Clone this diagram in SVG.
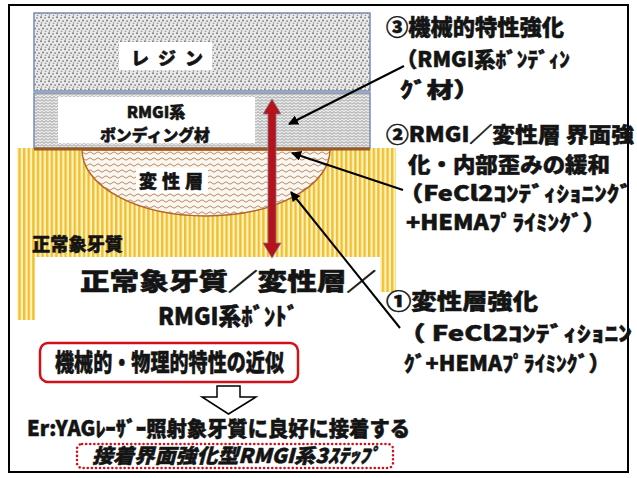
<svg xmlns="http://www.w3.org/2000/svg" width="637" height="478" viewBox="0 0 637 478">
  <defs>
    <style>
      text { font-family: "Noto Sans CJK JP", "Noto Sans", sans-serif; font-weight: 900; fill: #141414; stroke: #141414; stroke-width: 0.5; stroke-linejoin: round; }
      .lead { stroke: #000; stroke-width: 2; fill: none; }
      .layer { stroke: #7a8db0; stroke-width: 1.5; }
    </style>
    <!-- resin: fine grey speckle -->
    <pattern id="pResin" width="8" height="8" patternUnits="userSpaceOnUse">
      <rect width="8" height="8" fill="#e9e9e9"/>
      <circle cx="1" cy="1.2" r="1" fill="#7c7c7c"/>
      <circle cx="5" cy="1.8" r="0.9" fill="#8a8a8a"/>
      <circle cx="3" cy="4.5" r="1" fill="#7c7c7c"/>
      <circle cx="7" cy="5.2" r="0.9" fill="#8a8a8a"/>
      <circle cx="1.5" cy="7" r="0.8" fill="#909090"/>
      <circle cx="5.5" cy="7.5" r="0.8" fill="#909090"/>
    </pattern>
    <!-- bonding agent: grey zigzag weave -->
    <pattern id="pBond" width="8" height="6" patternUnits="userSpaceOnUse">
      <rect width="8" height="6" fill="#ececec"/>
      <path d="M0,2.5 l2,-2 l2,2 l2,-2 l2,2 M0,5.5 l2,-2 l2,2 l2,-2 l2,2" stroke="#888" stroke-width="0.9" fill="none"/>
    </pattern>
    <!-- altered layer: brown wavy lines -->
    <pattern id="pAltered" width="8" height="6" patternUnits="userSpaceOnUse">
      <rect width="8" height="6" fill="#fbf6ee"/>
      <path d="M0,3 q2,-2.4 4,0 t4,0" stroke="#a0704c" stroke-width="0.8" fill="none"/>
    </pattern>
    <!-- sound dentin: vertical gold stripes -->
    <pattern id="pDentin" width="4.6" height="10" patternUnits="userSpaceOnUse">
      <rect width="4.6" height="10" fill="#fff3c2"/>
      <rect width="2.4" height="10" fill="#f0c031"/>
    </pattern>
    <marker id="arrowBlack" viewBox="0 0 10 10" refX="9" refY="5" markerWidth="5" markerHeight="5" orient="auto">
      <path d="M0,0 L10,5 L0,10 Z" fill="#000"/>
    </marker>
  </defs>

  <rect width="637" height="478" fill="#fff"/>
  <!-- outer frame -->
  <rect x="9" y="5" width="619" height="467" fill="none" stroke="#000" stroke-width="2"/>

  <!-- sound dentin (U-shaped striped region) -->
  <g id="dentin">
    <path d="M17,148 H396 V294 H380 V257 H35 V320 H17 Z" fill="url(#pDentin)"/>
    <text x="32" y="251" font-size="18" textLength="91" lengthAdjust="spacingAndGlyphs">正常象牙質</text>
  </g>

  <!-- resin layer -->
  <g id="resin">
    <rect class="layer" x="34" y="13" width="336" height="78" fill="url(#pResin)"/>
    <rect x="119" y="42" width="93" height="28" fill="#fff"/>
    <text x="131" y="65" font-size="18" textLength="72" lengthAdjust="spacing">レジン</text>
  </g>

  <!-- RMGI bonding layer -->
  <g id="bonding">
    <rect class="layer" x="34" y="93" width="336" height="55" fill="url(#pBond)"/>
    <rect x="58" y="97" width="197" height="46" fill="#fff"/>
    <text x="156" y="118" font-size="16" text-anchor="middle">RMGI系</text>
    <text x="100" y="141" font-size="16" textLength="110" lengthAdjust="spacingAndGlyphs">ボンディング材</text>
  </g>

  <!-- altered (laser-affected) layer -->
  <g id="altered">
    <path d="M82,150 A124,66 0 0 0 330,150 Z" fill="url(#pAltered)" stroke="#b5652a" stroke-width="1.5"/>
    <rect x="136" y="168" width="72" height="25" fill="#fff"/>
    <text x="139" y="188" font-size="18" textLength="64" lengthAdjust="spacing">変性層</text>
  </g>

  <!-- bonding interface -->
  <line x1="34" y1="149" x2="370" y2="149" stroke="#9c5a23" stroke-width="3"/>

  <!-- red double arrow across the layers -->
  <g id="stress-arrow">
    <path d="M272,99 L281,114 L276,114 L276,243 L281,243 L272,258 L263,243 L268,243 L268,114 L263,114 Z" fill="#b5121b" stroke="#7d7f96" stroke-width="0.8"/>
  </g>

  <!-- large caption between the layers -->
  <g id="caption">
    <text x="80" y="290" font-size="24" textLength="296" lengthAdjust="spacingAndGlyphs">正常象牙質／変性層／</text>
    <text x="158" y="325" font-size="24" textLength="140" lengthAdjust="spacingAndGlyphs">RMGI系ﾎﾞﾝﾄﾞ</text>
  </g>

  <!-- step 3 -->
  <g id="step3">
    <text x="386" y="35" font-size="22" textLength="178" lengthAdjust="spacingAndGlyphs">③機械的特性強化</text>
    <text x="396" y="67" font-size="21" textLength="174" lengthAdjust="spacingAndGlyphs">（RMGI系ﾎﾞﾝﾃﾞｨﾝ</text>
    <text x="400" y="97" font-size="21" textLength="80" lengthAdjust="spacingAndGlyphs">ｸﾞ材）</text>
  </g>

  <!-- step 2 -->
  <g id="step2">
    <text x="386" y="142" font-size="21" textLength="248" lengthAdjust="spacingAndGlyphs">②RMGI／変性層 界面強</text>
    <text x="408" y="172" font-size="21" textLength="202" lengthAdjust="spacingAndGlyphs">化・内部歪みの緩和</text>
    <text x="398" y="201" font-size="21" textLength="234" lengthAdjust="spacingAndGlyphs">（FeCl2ｺﾝﾃﾞｨｼｮﾆﾝｸﾞ</text>
    <text x="406" y="230" font-size="21" textLength="200" lengthAdjust="spacingAndGlyphs">+HEMAﾌﾟﾗｲﾐﾝｸﾞ）</text>
  </g>

  <!-- step 1 -->
  <g id="step1">
    <rect x="380" y="292" width="20" height="30" fill="#fff"/>
    <text x="386" y="309" font-size="22" textLength="152" lengthAdjust="spacingAndGlyphs">①変性層強化</text>
    <text x="398" y="341" font-size="21" textLength="234" lengthAdjust="spacingAndGlyphs">（ FeCl2ｺﾝﾃﾞｨｼｮﾆﾝ</text>
    <text x="404" y="371" font-size="21" textLength="206" lengthAdjust="spacingAndGlyphs">ｸﾞ+HEMAﾌﾟﾗｲﾐﾝｸﾞ）</text>
  </g>

  <!-- leader lines -->
  <g id="connectors">
    <line class="lead" x1="404" y1="66" x2="289" y2="124" marker-end="url(#arrowBlack)"/>
    <line class="lead" x1="403" y1="190" x2="292" y2="153" marker-end="url(#arrowBlack)"/>
    <line class="lead" x1="400" y1="328" x2="291" y2="192" marker-end="url(#arrowBlack)"/>
  </g>

  <!-- conclusion -->
  <g id="summary">
    <rect x="40" y="343" width="258" height="39" rx="8" fill="#fff" stroke="#d0101a" stroke-width="2.5"/>
    <text x="55" y="371" font-size="24" textLength="229" lengthAdjust="spacingAndGlyphs">機械的・物理的特性の近似</text>
  </g>

  <g id="down-arrow">
    <path d="M217,386 H240 V397 H256 L228.5,414 L202,397 H217 Z" fill="#fff" stroke="#000" stroke-width="1.5" stroke-linejoin="miter"/>
  </g>

  <g id="result">
    <text x="27" y="436" font-size="21" textLength="383" lengthAdjust="spacingAndGlyphs">Er:YAGﾚｰｻﾞｰ照射象牙質に良好に接着する</text>
    <rect x="77" y="444" width="316" height="24" rx="5" fill="none" stroke="#d0101a" stroke-width="2.5" stroke-dasharray="0.1 4" stroke-linecap="round"/>
    <text x="92" y="463" font-size="20" font-style="italic" textLength="288" lengthAdjust="spacingAndGlyphs">接着界面強化型RMGI系3ｽﾃｯﾌﾟ</text>
  </g>
</svg>
